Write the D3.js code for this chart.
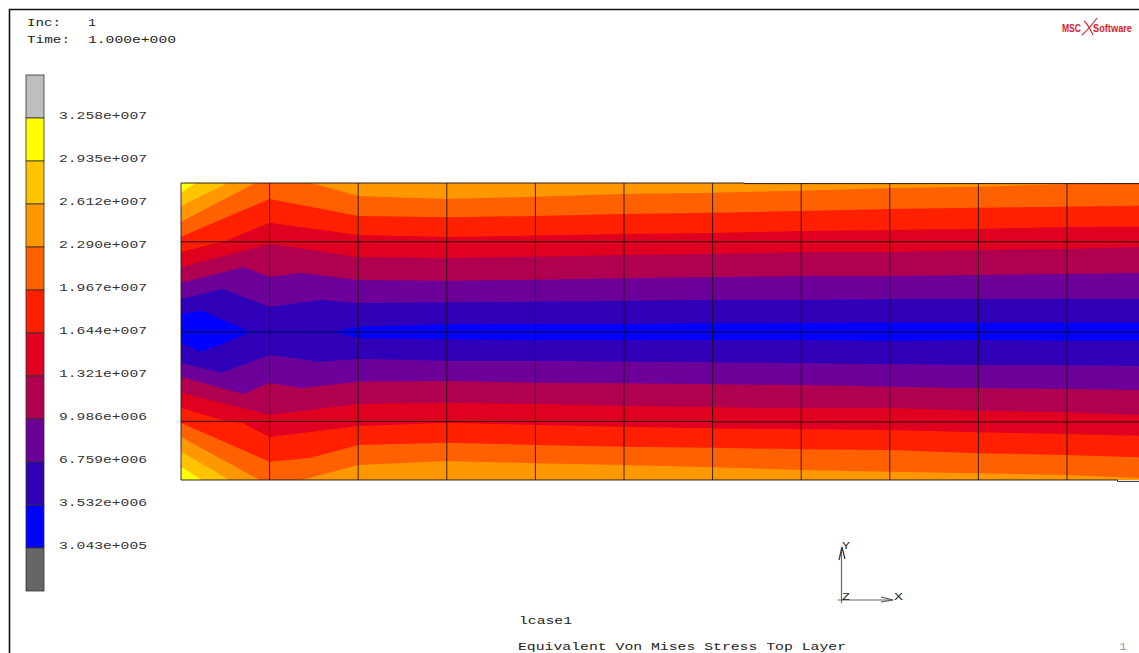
<!DOCTYPE html>

<head>
    <meta charset="utf-8">
    <script src="https://d3js.org/d3.v7.min.js"></script>
    <style>
        body {
            font-family: "Liberation Mono", monospace;
            margin: 0;
            background: #fff;
        }

        svg {
            display: block;
        }

        text {
            fill: #222;
            font-size: 10.5px;
        }
    </style>
</head>

<body>
    <script>
        // legend, top to bottom
        var legendColors = ["#bebebe", "#ffff00", "#ffc400", "#ff9800", "#ff6000", "#ff2000",
            "#e00020", "#b00050", "#6c0098", "#3000b8", "#0000ff", "#666666"];
        var legendLabels = ["3.258e+007", "2.935e+007", "2.612e+007", "2.290e+007", "1.967e+007", "1.644e+007",
            "1.321e+007", "9.986e+006", "6.759e+006", "3.532e+006", "3.043e+005"];

        // contour edges, [element position along x, model y]. the colour under each edge follows bandColors
        var bandColors = ["#ffc400", "#ff9800", "#ff6000", "#ff2000", "#e00020", "#b00050", "#6c0098", "#3000b8", "#0000ff",
            "#3000b8", "#6c0098", "#b00050", "#e00020", "#ff2000", "#ff6000", "#ff9800", "#ffc400", "#ffff00"];
        var topEdges = [
            [[0, 139.3], [0.19, 150], [10.82, 150]],
            [[0, 126], [0.55, 150], [10.82, 150]],
            [[0, 110.3], [0.86, 150], [1.43, 150], [2, 136], [3, 133], [4, 135.3], [5, 138], [6, 139.3], [7, 141.3], [8, 144], [9, 145.3], [10, 148], [10.82, 150]],
            [[0, 95.3], [1, 133], [2, 116], [3, 114.7], [4, 116], [5, 118], [6, 119.3], [7, 121], [8, 123], [9, 124.3], [10, 125.3], [10.82, 126.3]],
            [[0, 80.3], [0.5, 91], [1, 109.3], [2, 97], [3, 95], [4, 96.5], [5, 98], [6, 99], [7, 101], [8, 102], [9, 103], [10, 105], [10.82, 105.3]],
            [[0, 65], [1, 88], [2, 75], [3, 74], [4, 75.3], [5, 77], [6, 78], [7, 79.7], [8, 80], [9, 82], [10, 83], [10.82, 85]],
            [[0, 49], [0.7, 65], [1, 55.3], [1.36, 59], [2, 52], [3, 51.3], [4, 52.3], [5, 53.7], [6, 55], [7, 56], [8, 56], [9, 57], [10, 58], [10.82, 59]],
            [[0, 33], [0.47, 43], [1, 25], [1.57, 32], [2, 29], [3, 29.7], [4, 30.3], [5, 31.3], [6, 32], [7, 32], [8, 33], [9, 33], [10, 33], [10.82, 33]],
            [[0, 18], [0.23, 21.3], [0.78, 0.5], [1.75, 1], [2, 5.3], [3, 7.7], [4, 8], [5, 8], [6, 8.7], [7, 9], [8, 9.3], [9, 9.3], [10, 9.3], [10.82, 9.3]]
        ];
        var bottomEdges = [
            [[0, -11], [0.23, -19.7], [0.78, -0.7], [1.75, -0.7], [2, -6], [3, -7.3], [4, -8], [5, -8], [6, -8], [7, -8], [8, -8.7], [9, -8], [10, -8.5], [10.82, -8.5]],
            [[0, -31], [0.46, -40.7], [1, -23], [1.57, -29.7], [2, -27], [3, -28.7], [4, -28.7], [5, -29.7], [6, -30.3], [7, -31.3], [8, -32], [9, -33], [10, -33], [10.82, -34]],
            [[0, -45], [0.7, -62], [1, -51], [1.36, -56], [2, -49.7], [3, -49], [4, -50.7], [5, -51.3], [6, -52.3], [7, -53], [8, -54.7], [9, -56.3], [10, -57], [10.82, -58]],
            [[0, -61], [1, -83], [2, -72], [3, -70.7], [4, -72], [5, -74], [6, -75.3], [7, -76.3], [8, -76], [9, -78.7], [10, -80.3], [10.82, -83]],
            [[0, -76], [0.5, -89], [0.7, -91], [1, -105], [2, -94], [3, -90.7], [4, -93], [5, -94.7], [6, -96.3], [7, -97.3], [8, -98], [9, -100.3], [10, -102], [10.82, -103.7]],
            [[0, -91], [1, -129.7], [1.45, -126], [2, -113], [3, -110.7], [4, -113], [5, -114.7], [6, -115.7], [7, -117.3], [8, -118], [9, -121.3], [10, -123], [10.82, -125.3]],
            [[0, -105], [0.93, -150], [1.27, -150], [2, -133], [3, -129], [4, -131.3], [5, -133], [6, -135.3], [7, -138], [8, -139.7], [9, -141.3], [10, -143], [10.82, -146]],
            [[0, -119.7], [0.59, -150], [10.82, -150]],
            [[0, -134.7], [0.27, -150], [10.82, -150]]
        ];

        // mesh lines
        var meshColumns = [0, 1, 2, 3, 4, 5, 6, 7, 8, 9, 10];
        var meshRows = [
            [[0, 149], [6.36, 149], [6.36, 148.4], [10.82, 148.4]],
            [[0, 90.2], [10.82, 90.2]],
            [[0, 0], [10.82, 0]],
            [[0, -89.4], [6, -89.4], [6, -90], [10.82, -90]],
            [[0, -148], [10.57, -148], [10.57, -149.4], [10.82, -149.4]]
        ];

        var width = 1139,
            height = 653;

        var x = d3.scaleLinear().domain([0, 10]).range([181, 1067]),
            y = d3.scaleLinear().domain([149, -149]).range([183, 481]),
            legendY = d3.scaleBand().domain(legendColors).range([75, 591]);

        var svg = d3.select("body").append("svg")
            .attr("width", width)
            .attr("height", height);

        // frame
        svg.append("path")
            .attr("d", "M9.5,653V9.5H1139")
            .attr("fill", "none")
            .attr("stroke", "#111")
            .attr("stroke-width", 1.6);

        // header text
        function label(str, px, py, len) {
            return svg.append("text")
                .attr("x", px)
                .attr("y", py)
                .attr("textLength", len)
                .attr("lengthAdjust", "spacingAndGlyphs")
                .text(str);
        }
        label("Inc:", 27, 26, 34);
        label("1", 88, 26, 8);
        label("Time:", 27, 43, 43);
        label("1.000e+000", 88, 43, 88);

        // legend
        svg.selectAll("rect.legend")
            .data(legendColors)
            .enter().append("rect")
            .attr("class", "legend")
            .attr("x", 26)
            .attr("y", function(d) { return legendY(d); })
            .attr("width", 18)
            .attr("height", legendY.bandwidth())
            .attr("fill", function(d) { return d; })
            .attr("stroke", "#333")
            .attr("stroke-width", 0.8);

        svg.selectAll("text.tick")
            .data(legendLabels)
            .enter().append("text")
            .attr("class", "tick")
            .attr("x", 59)
            .attr("y", function(d, i) { return legendY(legendColors[i]) + legendY.bandwidth() + 1; })
            .attr("textLength", 88)
            .attr("lengthAdjust", "spacingAndGlyphs")
            .style("fill", "#333")
            .text(String);

        // contour bands, painted from the top down
        svg.append("clipPath").attr("id", "mesh")
            .append("rect")
            .attr("x", x(0))
            .attr("y", y(149))
            .attr("width", width - x(0))
            .attr("height", y(-148) - y(149));

        var band = d3.area()
            .x(function(d) { return x(d[0]); })
            .y0(function(d) { return y(d[1]); })
            .y1(y(-149));

        var plot = svg.append("g").attr("clip-path", "url(#mesh)");

        plot.append("rect")
            .attr("x", x(0))
            .attr("y", y(149))
            .attr("width", width - x(0))
            .attr("height", y(-149) - y(149))
            .attr("fill", "#ffff00");

        plot.selectAll("path.band")
            .data(topEdges.concat(bottomEdges))
            .enter().append("path")
            .attr("class", "band")
            .attr("d", band)
            .attr("fill", function(d, i) { return bandColors[i]; });

        // mesh
        var rowLine = d3.line()
            .x(function(d) { return x(d[0]); })
            .y(function(d) { return y(d[1]); });

        svg.selectAll("path.row")
            .data(meshRows)
            .enter().append("path")
            .attr("class", "row")
            .attr("d", rowLine)
            .attr("fill", "none")
            .attr("stroke", "#1a1010")
            .attr("stroke-opacity", 0.9);

        svg.selectAll("line.col")
            .data(meshColumns)
            .enter().append("line")
            .attr("class", "col")
            .attr("x1", function(d) { return x(d); })
            .attr("x2", function(d) { return x(d); })
            .attr("y1", y(149))
            .attr("y2", y(-148))
            .attr("stroke", "#1a1010")
            .attr("stroke-opacity", 0.85);

        // triad
        var triad = svg.append("g")
            .attr("fill", "none")
            .attr("stroke", "#666")
            .attr("stroke-width", 1.2);
        triad.append("path").attr("d", "M841.5,603V548");
        triad.append("path").attr("d", "M838,600H893");
        triad.append("path").attr("d", "M839,560L842,547L845,559").attr("stroke", "#333");
        triad.append("path").attr("d", "M881,597L893,600L881,602").attr("stroke", "#555");
        label("Y", 842, 549, 8);
        label("Z", 842, 600, 8);
        label("X", 894, 600, 9);

        // footer text
        label("lcase1", 519, 624, 53);
        label("Equivalent Von Mises Stress Top Layer", 518, 650, 328);
        label("1", 1119, 650, 8).style("fill", "#999");

        // logo
        var logo = svg.append("g")
            .style("font-family", "'Liberation Sans', sans-serif");
        logo.append("text")
            .attr("x", 1062).attr("y", 32)
            .attr("textLength", 19)
            .attr("lengthAdjust", "spacingAndGlyphs")
            .style("font-size", "11px").style("font-weight", "bold").style("fill", "#d8232a")
            .text("MSC");
        logo.append("text")
            .attr("x", 1093).attr("y", 32)
            .attr("textLength", 39)
            .attr("lengthAdjust", "spacingAndGlyphs")
            .style("font-size", "11px").style("font-weight", "bold").style("fill", "#d8232a")
            .text("Software");
        logo.append("path")
            .attr("d", "M1082,35Q1089,29 1097,18M1084,21Q1088,24 1093,35")
            .attr("fill", "none")
            .attr("stroke", "#d8232a")
            .attr("stroke-width", 1.1);
    </script>
</body>
